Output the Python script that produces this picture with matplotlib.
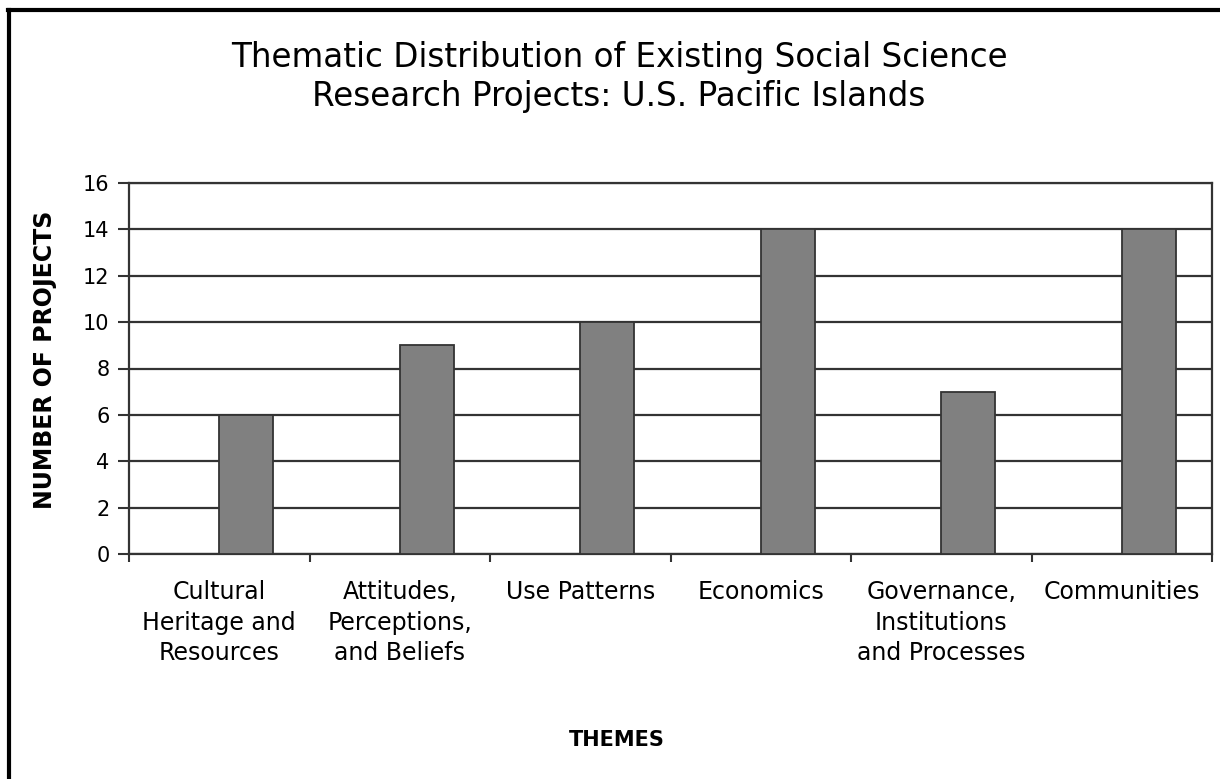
import numpy as np
import matplotlib
matplotlib.use("Agg")
import matplotlib.pyplot as plt
from matplotlib.lines import Line2D

# chart data
themes = ["Cultural\nHeritage and\nResources",
          "Attitudes,\nPerceptions,\nand Beliefs",
          "Use Patterns",
          "Economics",
          "Governance,\nInstitutions\nand Processes",
          "Communities"]
projects = [6, 9, 10, 14, 7, 14]
y_ticks = [0, 2, 4, 6, 8, 10, 12, 14, 16]

plt.rcParams["font.family"] = ["DejaVu Sans"]

fig = plt.figure(figsize=(12.2, 7.79), dpi=100)
ax = fig.add_axes([129 / 1220, 1 - 554 / 779, (1212 - 129) / 1220, (554 - 183) / 779])

x = np.arange(len(themes))
# bars sit in the right half of each slot
ax.bar(x + 0.15, projects, width=0.3, color="#808080", edgecolor="#333333",
       linewidth=1.3, zorder=3)

ax.set_xlim(-0.5, len(themes) - 0.5)
ax.set_ylim(0, 16)
ax.set_yticks(y_ticks)
ax.yaxis.grid(True, color="#333333", linewidth=1.6, zorder=0)
ax.set_axisbelow(True)

for s in ax.spines.values():
    s.set_color("#333333")
    s.set_linewidth(1.6)

ax.tick_params(axis="y", direction="out", length=8, width=1.5, color="#333333",
               labelsize=15, pad=6)
ax.set_xticks(x)
ax.set_xticklabels(themes, fontsize=17, linespacing=1.33)
ax.set_xticks(np.arange(-0.5, len(themes)), minor=True)
ax.tick_params(axis="x", which="major", length=0, pad=19)
ax.tick_params(axis="x", which="minor", direction="out", length=6, width=1.5,
               color="#333333")

fig.text(45 / 1220, 1 - 360 / 779, "NUMBER OF PROJECTS", fontsize=17,
         fontweight="bold", rotation=90, ha="center", va="center")
fig.text(617 / 1220, 1 - 740 / 779, "THEMES", fontsize=15, fontweight="bold",
         ha="center", va="center")

fig.text(619 / 1220, 1 - 77 / 779,
         "Thematic Distribution of Existing Social Science\nResearch Projects: U.S. Pacific Islands",
         fontsize=23.5, ha="center", va="center", linespacing=1.22)

# border lines (top and left only, image is cropped)
fig.add_artist(Line2D([8 / 1220, 1], [1 - 10 / 779, 1 - 10 / 779],
                      transform=fig.transFigure, color="black", linewidth=3))
fig.add_artist(Line2D([9 / 1220, 9 / 1220], [0, 1 - 10 / 779],
                      transform=fig.transFigure, color="black", linewidth=3))

fig.savefig("out.png", dpi=100, facecolor="white")
